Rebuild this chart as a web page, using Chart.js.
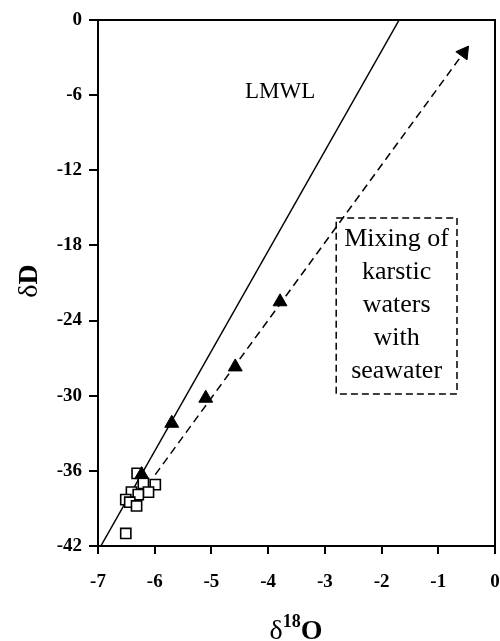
<!DOCTYPE html>
<html>
<head>
<meta charset="utf-8">
<script src="https://cdn.jsdelivr.net/npm/chart.js@4.4.0/dist/chart.umd.min.js"></script>
<style>
  html, body { margin: 0; padding: 0; background: #fff; overflow: hidden; }
  #wrap { width: 500px; height: 641px; }
  canvas { display: block; }
</style>
</head>
<body>
<div id="wrap"><canvas id="plot" width="500" height="641"></canvas></div>
<script>
// axis ticks
const xTicks = [-7, -6, -5, -4, -3, -2, -1, 0];
const yTicks = [-42, -36, -30, -24, -18, -12, -6, 0];

// local meteoric water line (end points)
const lmwlX = [-6.95, -1.69];
const lmwlY = [-42, 0];

// mixing line karstic water -> seawater (arrow at the end)
const mixX = [-5.99, -0.55];
const mixY = [-36.3, -2.6];

// filled triangles
const triX = [-6.23, -5.70, -5.10, -4.58, -3.79];
const triY = [-36.3, -32.2, -30.2, -27.7, -22.5];

// open squares
const sqX = [-6.31, -5.99, -6.20, -6.11, -6.41, -6.29, -6.51, -6.44, -6.32, -6.51];
const sqY = [-36.2, -37.1, -37.0, -37.7, -37.7, -37.9, -38.3, -38.5, -38.8, -41.0];

const pts = (xs, ys) => xs.map((v, i) => ({ x: v, y: ys[i] }));
const serif = '"Liberation Serif", "Times New Roman", serif';

// frame, labels, box and axis titles
const extras = {
    id: 'extras',
    afterDraw(chart) {
        const { ctx, chartArea: a, scales: { x, y } } = chart;
        ctx.save();
        ctx.strokeStyle = '#000';
        ctx.fillStyle = '#000';
        ctx.lineWidth = 2;
        ctx.setLineDash([]);
        ctx.strokeRect(a.left, a.top, a.right - a.left, a.bottom - a.top);

        // LMWL label
        ctx.font = '23px ' + serif;
        ctx.textAlign = 'center';
        ctx.textBaseline = 'alphabetic';
        ctx.fillText('LMWL', x.getPixelForValue(-3.79), y.getPixelForValue(-6.23));

        // dashed box
        const bl = x.getPixelForValue(-2.80), br = x.getPixelForValue(-0.67);
        const bt = y.getPixelForValue(-15.8), bb = y.getPixelForValue(-29.86);
        ctx.lineWidth = 1.5;
        ctx.setLineDash([7, 4]);
        ctx.strokeRect(bl, bt, br - bl, bb - bt);
        ctx.setLineDash([]);
        ctx.font = '26px ' + serif;
        const lines = ['Mixing of', 'karstic', 'waters', 'with', 'seawater'];
        const cx = (bl + br) / 2;
        lines.forEach((t, i) => ctx.fillText(t, cx, 246 + i * 33));

        // x title: delta 18 O
        const f1 = '28px ' + serif, f2 = 'bold 18px ' + serif, f3 = 'bold 28px ' + serif;
        ctx.textAlign = 'left';
        ctx.font = f1; const w1 = ctx.measureText('δ').width;
        ctx.font = f2; const w2 = ctx.measureText('18').width;
        ctx.font = f3; const w3 = ctx.measureText('O').width;
        let sx = 296 - (w1 + w2 + w3) / 2;
        ctx.font = f1; ctx.fillText('δ', sx, 639);
        ctx.font = f2; ctx.fillText('18', sx + w1, 627);
        ctx.font = f3; ctx.fillText('O', sx + w1 + w2, 639);

        // y title: delta D, rotated
        ctx.translate(37, 281);
        ctx.rotate(-Math.PI / 2);
        ctx.font = f1; const d1 = ctx.measureText('δ').width;
        ctx.font = f3; const d2 = ctx.measureText('D').width;
        const sy = -(d1 + d2) / 2;
        ctx.font = f1; ctx.fillText('δ', sy, 0);
        ctx.font = f3; ctx.fillText('D', sy + d1, 0);
        ctx.restore();
    }
};

const tickFont = { family: serif, size: 19, weight: 'bold' };

new Chart(document.getElementById('plot'), {
    type: 'scatter',
    data: {
        datasets: [
            {
                data: pts(triX, triY),
                pointStyle: 'triangle',
                pointRadius: 8,
                backgroundColor: '#000',
                borderColor: '#000',
                borderWidth: 1
            },
            {
                data: pts(sqX, sqY),
                pointStyle: 'rect',
                pointRadius: 7.2,
                backgroundColor: '#fff',
                borderColor: '#000',
                borderWidth: 1.6
            },
            {
                data: pts(lmwlX, lmwlY),
                showLine: true,
                borderColor: '#000',
                borderWidth: 1.5,
                pointRadius: 0
            },
            {
                data: pts(mixX, mixY),
                showLine: true,
                borderColor: '#000',
                borderWidth: 1.5,
                borderDash: [8, 5],
                pointStyle: 'triangle',
                pointRadius: [0, 8],
                pointRotation: [0, 36],
                backgroundColor: '#000',
                pointBorderColor: '#000',
                pointBorderWidth: 1
            }
        ]
    },
    options: {
        responsive: false,
        animation: false,
        devicePixelRatio: 1,
        layout: { autoPadding: false, padding: { left: 0, right: 5, top: 20, bottom: 0 } },
        plugins: { legend: { display: false }, tooltip: { enabled: false } },
        scales: {
            x: {
                min: -7, max: 0,
                afterBuildTicks: s => { s.ticks = xTicks.map(v => ({ value: v })); },
                afterFit: s => { s.height = 95; s.paddingLeft = 0; s.paddingRight = 0; },
                ticks: { font: tickFont, color: '#000', padding: 17, maxRotation: 0 },
                grid: { drawOnChartArea: false, drawTicks: true, tickLength: 8, color: '#000', lineWidth: 2 },
                border: { display: true, color: '#000', width: 2 }
            },
            y: {
                min: -42, max: 0,
                afterBuildTicks: s => { s.ticks = yTicks.map(v => ({ value: v })); },
                afterFit: s => { s.width = 98; s.paddingTop = 0; s.paddingBottom = 0; },
                ticks: { font: tickFont, color: '#000', padding: 7 },
                grid: { drawOnChartArea: false, drawTicks: true, tickLength: 9, color: '#000', lineWidth: 2 },
                border: { display: true, color: '#000', width: 2 }
            }
        }
    },
    plugins: [extras]
});
</script>
</body>
</html>
